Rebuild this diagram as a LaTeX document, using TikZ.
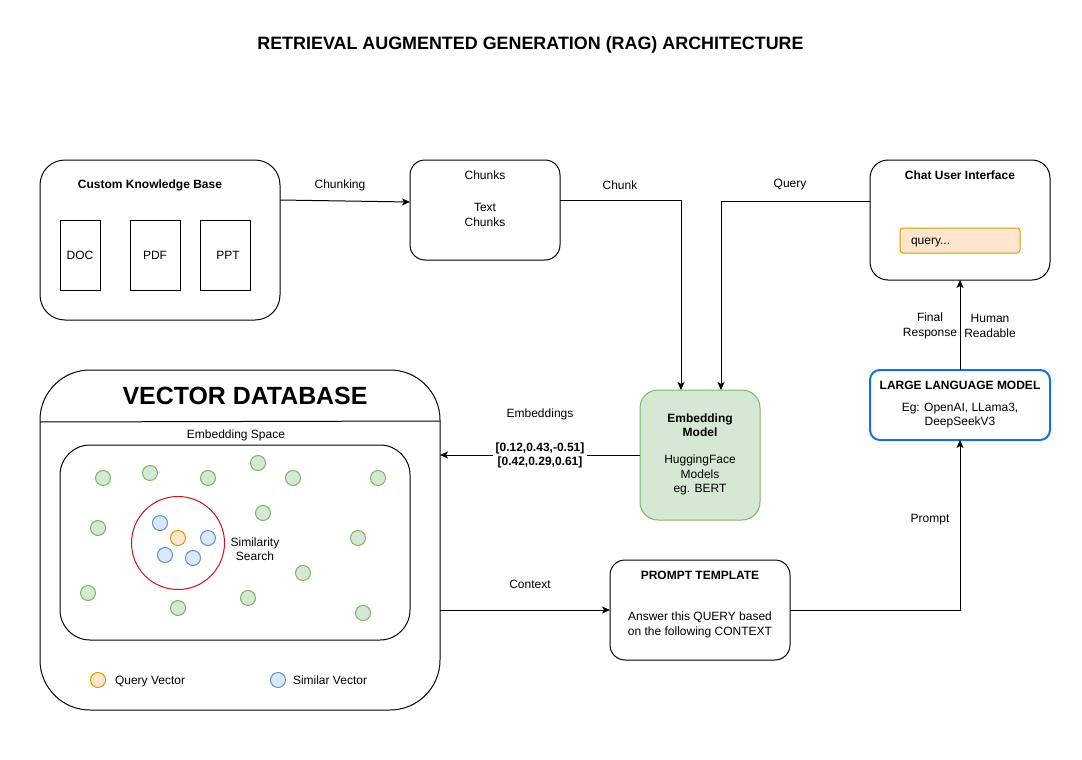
\documentclass[tikz,border=0pt]{standalone}
\usepackage{fontspec}
\setmainfont{Liberation Sans}
\usetikzlibrary{arrows.meta,calc}
\definecolor{gfill}{HTML}{D5E8D4}
\definecolor{gline}{HTML}{82B366}
\definecolor{bfill}{HTML}{DAE8FC}
\definecolor{bline}{HTML}{6C8EBF}
\definecolor{ofill}{HTML}{FFE6CC}
\definecolor{oline}{HTML}{D79B00}
\definecolor{redc}{HTML}{D0101A}
\definecolor{llmblue}{HTML}{1670DA}
\tikzset{
  every node/.style={font=\fontsize{12}{14.4}\selectfont, inner sep=0pt, outer sep=0pt},
  box/.style={draw=black, line width=1pt, fill=white, rounded corners=#1},
  box/.default=15pt,
  txt/.style={align=center},
  conn/.style={line width=1pt, -{Stealth[length=8pt,width=7pt,inset=2pt]}},
  gdot/.style={circle, draw=gline, fill=gfill, line width=1pt, minimum size=15pt},
  bdot/.style={circle, draw=bline, fill=bfill, line width=1pt, minimum size=15pt},
  odot/.style={circle, draw=oline, fill=ofill, line width=1pt, minimum size=15pt},
}
\begin{document}
\begin{tikzpicture}[x=1pt,y=-1pt]
\useasboundingbox (0,0) rectangle (1082,760);
\fill[white] (0,0) rectangle (1082,760);

% title
\node[txt] (title) at (530.5,45) {\fontsize{17.9}{21}\selectfont\bfseries RETRIEVAL AUGMENTED GENERATION (RAG) ARCHITECTURE};

% Custom knowledge base
\node[box=25pt, minimum width=240pt, minimum height=160pt] (ckb) at (160,240) {};
\node[txt] (ckbt) at (150,185) {\bfseries Custom Knowledge Base};
\node[draw, line width=1pt, minimum width=40pt, minimum height=70pt] (doc) at (80,255) {DOC};
\node[draw, line width=1pt, minimum width=50pt, minimum height=70pt] (pdf) at (155,255) {PDF};
\node[draw, line width=1pt, minimum width=50pt, minimum height=70pt] (ppt) at (225,255) {\hspace{6pt}PPT};

% Chunks
\node[box=15pt, minimum width=150pt, minimum height=100pt] (chunks) at (485,210) {};
\node[txt] (chunkst) at (485,175) {Chunks};
\node[txt] (chunksb) at (485,215) {Text\\Chunks};

% Chat UI
\node[box=18pt, minimum width=180pt, minimum height=120pt] (chat) at (960,220) {};
\node[txt] (chatt) at (960,175) {\bfseries Chat User Interface};
\node[draw=oline, fill=ofill, line width=1pt, rounded corners=3pt, minimum width=120pt, minimum height=25pt] (qfield) at (960,240.5) {};
\node[anchor=base west] (qtext) at (911,244) {query...};

% LLM
\node[draw=llmblue, line width=2pt, fill=white, rounded corners=10pt, minimum width=180pt, minimum height=70pt] (llm) at (960,405) {};
\node[txt] (llmt) at (960,385) {\bfseries LARGE LANGUAGE MODEL};
\node[txt] (llmb) at (960,415.5) {Eg: OpenAI, LLama3,\\DeepSeekV3};

% Embedding model
\node[draw=gline, fill=gfill, line width=1pt, rounded corners=18pt, minimum width=120pt, minimum height=130pt] (em) at (700,455) {};
\node[txt] (emt) at (700,425) {\bfseries Embedding\\\bfseries Model};
\node[txt] (emb) at (700,475) {HuggingFace\\Models\\eg. BERT};

% Prompt template
\node[box=15pt, minimum width=180pt, minimum height=100pt] (pt) at (700,610) {};
\node[txt] (ptt) at (700,575) {\bfseries PROMPT TEMPLATE};
\node[txt] (ptb) at (700,625) {Answer this QUERY based\\on the following CONTEXT};

% Vector database
\node[box=50pt, minimum width=400pt, minimum height=340pt] (vdb) at (240,540) {};
\draw[line width=1pt] (vdb.west |- 0,422) coordinate (divl) -- (vdb.east |- 0,421) coordinate (divr);
\node[txt] (vdbt) at (245,396) {\fontsize{24.9}{29}\selectfont\bfseries VECTOR DATABASE};
\node[txt] (est) at (236,435) {Embedding Space};
\node[box=30pt, minimum width=350pt, minimum height=195pt] (es) at (235,542.5) {};

% green dots
\foreach \px/\py [count=\i] in {103/478,150/473,208/478,258/463,293/478,378/478,263/513,98/528,358/538,303/573,88/593,178/608,248/598,363/613}
  \node[gdot] (g\i) at (\px,\py) {};

% similarity circle
\node[circle, draw=redc, line width=1pt, minimum size=93pt] (sim) at (178,543) {};
\node[bdot] (b1) at (160,523) {};
\node[bdot] (b2) at (208,538) {};
\node[bdot] (b3) at (165,555) {};
\node[bdot] (b4) at (193,558) {};
\node[odot] (q1) at (178,538) {};
\node[txt] (simt) at (255,549) {Similarity\\Search};

% legend
\node[odot] (lq) at (98,680) {};
\node[anchor=base west] (lqt) at (115,684.3) {Query Vector};
\node[bdot] (ls) at (278,680) {};
\node[anchor=base west] (lst) at (293,684.3) {Similar Vector};

% connectors
\draw[conn] ([yshift=40pt]ckb.east) -- ([yshift=8pt]chunks.west);
\node[txt] (lchunking) at (340,185) {Chunking};

\draw[conn] ([yshift=10pt]chunks.east) -| ([xshift=-19pt]em.north);
\node[txt] (lchunk) at (620,185) {Chunk};

\draw[conn] ([yshift=19pt]chat.west) -| ([xshift=21pt]em.north);
\node[txt] (lquery) at (790,185) {Query};

\draw[conn] (llm.north) -- (chat.south);
\node[txt] (lfinal) at (930,326) {Final\\Response};
\node[txt] (lhuman) at (990,326) {Human\\Readable};

\draw[conn] (em.west) -- (vdb.east |- em.west);
\node[txt, fill=white, inner sep=3pt] (lvec) at (540,455.5) {\bfseries [0.12,0.43,-0.51]\\\bfseries [0.42,0.29,0.61]};
\node[txt] (lemb) at (540,414) {Embeddings};

\draw[conn] (vdb.east |- pt.west) -- (pt.west);
\node[txt] (lctx) at (530,584) {Context};

\draw[conn] (pt.east) -| (llm.south);
\node[txt] (lprompt) at (930,520) {Prompt};
\end{tikzpicture}
\end{document}
